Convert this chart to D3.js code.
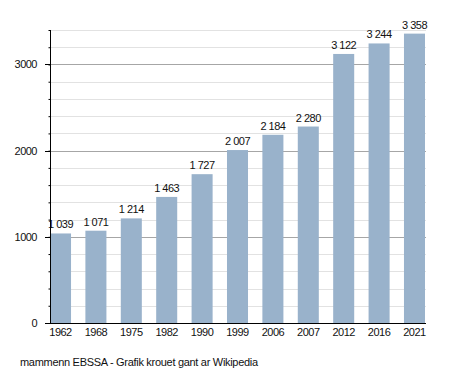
<!DOCTYPE html>
<html>
<head>
<meta charset="utf-8">
<script src="https://cdn.jsdelivr.net/npm/d3@7"></script>
<style>
  body { margin: 0; background: #fff; }
  text { font-family: "Liberation Sans", Arial, sans-serif; fill: #111; letter-spacing: -0.5px; }
</style>
</head>
<body>
<div id="chart"></div>
<script>
// data
var years = ["1962", "1968", "1975", "1982", "1990", "1999", "2006", "2007", "2012", "2016", "2021"];
var population = [1039, 1071, 1214, 1463, 1727, 2007, 2184, 2280, 3122, 3244, 3358];
var majorTicks = [0, 1000, 2000, 3000];
var footer = "mammenn EBSSA - Grafik krouet gant ar Wikipedia";

var WIDTH = 455, HEIGHT = 373;
var LEFT = 50, RIGHT = 426, TOP = 30, BOTTOM = 323;

function fmt(v) {
    return d3.format(",")(v).replace(/,/g, " ");
}

var svg = d3.select("#chart").append("svg")
    .attr("width", WIDTH)
    .attr("height", HEIGHT);

var xScale = d3.scaleBand()
    .domain(years)
    .range([LEFT, 425])
    .paddingInner(0.406)
    .paddingOuter(0);

var yScale = d3.scaleLinear()
    .domain([0, 3400])
    .range([BOTTOM, TOP]);

// grid lines
var minor = d3.range(200, 3401, 200).filter(function(v) { return v % 1000 != 0; });
svg.selectAll(".minor")
    .data(minor)
    .enter().append("line")
    .attr("x1", LEFT).attr("x2", RIGHT)
    .attr("y1", d => Math.round(yScale(d)) + 0.5)
    .attr("y2", d => Math.round(yScale(d)) + 0.5)
    .attr("stroke", "#e2e2e2");

svg.selectAll(".major")
    .data(majorTicks.filter(d => d > 0))
    .enter().append("line")
    .attr("x1", LEFT).attr("x2", RIGHT)
    .attr("y1", d => Math.round(yScale(d)) + 0.5)
    .attr("y2", d => Math.round(yScale(d)) + 0.5)
    .attr("stroke", "#a6a6a6");

// bars
svg.selectAll(".bar")
    .data(population)
    .enter().append("rect")
    .attr("x", (d, i) => xScale(years[i]))
    .attr("y", d => yScale(d))
    .attr("width", xScale.bandwidth())
    .attr("height", d => BOTTOM - yScale(d))
    .attr("fill", "#99b2cb");

// value labels
svg.selectAll(".val")
    .data(population)
    .enter().append("text")
    .attr("x", (d, i) => xScale(years[i]) + xScale.bandwidth() / 2)
    .attr("y", d => yScale(d) - 5)
    .attr("text-anchor", "middle")
    .attr("font-size", 11)
    .text(d => fmt(d));

// y axis
var yAxis = svg.append("g")
    .attr("transform", "translate(" + (LEFT + 0.5) + ",0)")
    .call(d3.axisLeft(yScale).tickValues(d3.range(0, 3401, 200)).tickSize(2).tickFormat(""));
yAxis.select(".domain").remove();
yAxis.selectAll("line").attr("stroke", "#000");
svg.selectAll(".ylab")
    .data(majorTicks)
    .enter().append("text")
    .attr("x", 37)
    .attr("y", d => yScale(d) + 4)
    .attr("text-anchor", "end")
    .attr("font-size", 11)
    .text(d => d);
svg.selectAll(".ymajtick")
    .data(majorTicks)
    .enter().append("line")
    .attr("x1", 45).attr("x2", LEFT)
    .attr("y1", d => Math.round(yScale(d)) + 0.5)
    .attr("y2", d => Math.round(yScale(d)) + 0.5)
    .attr("stroke", "#000");
svg.append("line")
    .attr("x1", LEFT + 0.5).attr("x2", LEFT + 0.5)
    .attr("y1", TOP).attr("y2", BOTTOM + 1)
    .attr("stroke", "#000");

// x axis
svg.append("line")
    .attr("x1", LEFT).attr("x2", RIGHT)
    .attr("y1", BOTTOM + 0.5).attr("y2", BOTTOM + 0.5)
    .attr("stroke", "#000");
svg.selectAll(".xlab")
    .data(years)
    .enter().append("text")
    .attr("x", d => xScale(d) + xScale.bandwidth() / 2)
    .attr("y", BOTTOM + 13)
    .attr("text-anchor", "middle")
    .attr("font-size", 11)
    .text(d => d);

// footer
svg.append("text")
    .attr("x", 20)
    .attr("y", 366)
    .attr("font-size", 11)
    .style("letter-spacing", "-0.3px")
    .text(footer);
</script>
</body>
</html>
